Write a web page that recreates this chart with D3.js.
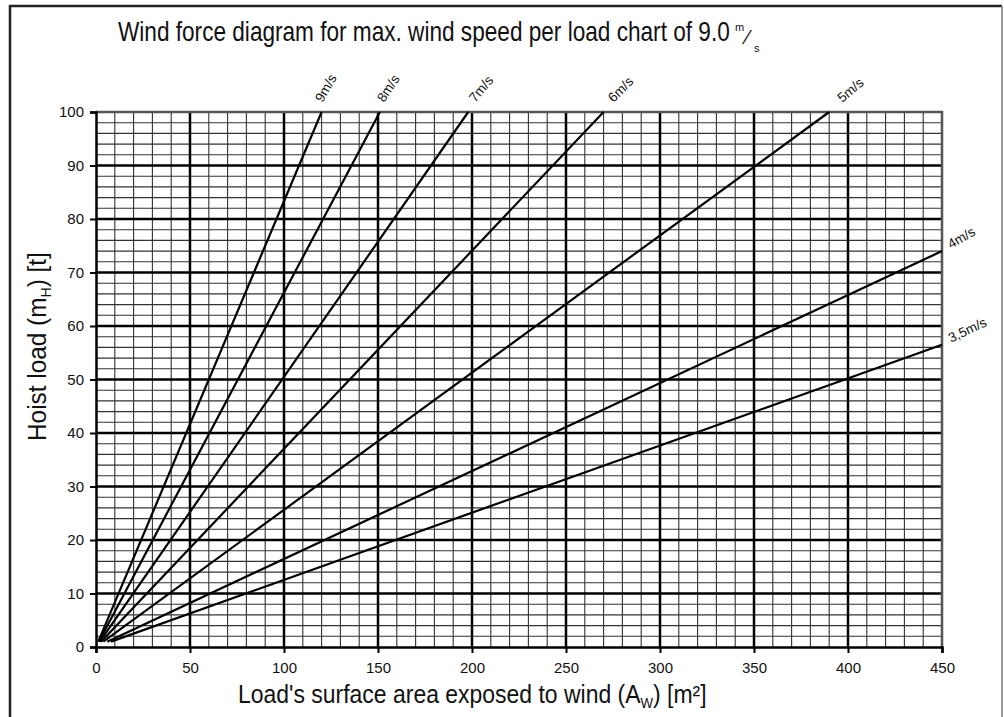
<!DOCTYPE html>
<head>
<meta charset="utf-8">
<style>
    body { margin: 0; background: #fff; }
    text { font-family: "Liberation Sans", Arial, sans-serif; fill: #111; }
    .narrow { font-family: "Liberation Sans Narrow", "Liberation Sans", Arial, sans-serif; }
</style>
<script src="https://d3js.org/d3.v7.min.js"></script>
</head>
<body>
<script>
// wind speed curves: [area m2, load t]
var speeds = ["9m/s", "8m/s", "7m/s", "6m/s", "5m/s", "4m/s", "3,5m/s"];
var curve_9 = [[1.2, 1], [120, 100]];
var curve_8 = [[1.5, 1], [151, 100]];
var curve_7 = [[2, 1], [198, 100]];
var curve_6 = [[2.7, 1], [270, 100]];
var curve_5 = [[3.9, 1], [390, 100]];
var curve_4 = [[6, 1], [450, 74]];
var curve_35 = [[8, 1], [450, 56.5]];
var curves = [curve_9, curve_8, curve_7, curve_6, curve_5, curve_4, curve_35];
var labelAngles = [-60, -56, -50, -45, -40, -30, -25];

var xTicks = [0, 50, 100, 150, 200, 250, 300, 350, 400, 450];
var yTicks = [0, 10, 20, 30, 40, 50, 60, 70, 80, 90, 100];

var width = 1004, height = 717;
var margin = {top: 112, right: 62, bottom: 70, left: 96};

var svg = d3.select("body").append("svg")
    .attr("width", width)
    .attr("height", height);

// outer frame (runs off the bottom of the picture)
svg.append("path")
    .attr("d", "M10,740 V6 H1002")
    .attr("fill", "none")
    .attr("stroke", "#222")
    .attr("stroke-width", 2.5);
svg.append("line")
    .attr("x1", 1002).attr("x2", 1002).attr("y1", 6).attr("y2", 740)
    .attr("stroke", "#999").attr("stroke-width", 2);

var x = d3.scaleLinear()
    .domain([0, 450])
    .range([margin.left, width - margin.right]);

var y = d3.scaleLinear()
    .domain([0, 100])
    .range([height - margin.bottom, margin.top]);

var g = svg.append("g");

// minor grid
g.selectAll("line.vminor")
  .data(d3.range(10, 450, 10).filter(function(d) { return d % 50 != 0; }))
  .enter().append("line")
    .attr("class", "vminor")
    .attr("x1", function(d) { return x(d); })
    .attr("x2", function(d) { return x(d); })
    .attr("y1", y(0)).attr("y2", y(100))
    .attr("stroke", "#333")
    .attr("stroke-width", 1.1);

g.selectAll("line.hminor")
  .data(d3.range(2, 100, 2).filter(function(d) { return d % 10 != 0; }))
  .enter().append("line")
    .attr("class", "hminor")
    .attr("y1", function(d) { return y(d); })
    .attr("y2", function(d) { return y(d); })
    .attr("x1", x(0)).attr("x2", x(450))
    .attr("stroke", "#333")
    .attr("stroke-width", 1.1);

// major grid
g.selectAll("line.vmajor")
  .data(xTicks.slice(1, -1))
  .enter().append("line")
    .attr("class", "vmajor")
    .attr("x1", function(d) { return x(d); })
    .attr("x2", function(d) { return x(d); })
    .attr("y1", y(0)).attr("y2", y(100))
    .attr("stroke", "#000")
    .attr("stroke-width", 2.5);

g.selectAll("line.hmajor")
  .data(yTicks.slice(1, -1))
  .enter().append("line")
    .attr("class", "hmajor")
    .attr("y1", function(d) { return y(d); })
    .attr("y2", function(d) { return y(d); })
    .attr("x1", x(0)).attr("x2", x(450))
    .attr("stroke", "#000")
    .attr("stroke-width", 2.5);

// top and right borders of the plot
g.append("path")
    .attr("d", "M" + x(0) + "," + y(100) + "H" + x(450) + "V" + y(0))
    .attr("fill", "none")
    .attr("stroke", "#555")
    .attr("stroke-width", 2.5);

// curves
var line = d3.line()
    .x(function(d) { return x(d[0]); })
    .y(function(d) { return y(d[1]); });

g.selectAll("path.curve")
  .data(curves)
  .enter().append("path")
    .attr("class", "curve")
    .attr("d", line)
    .attr("fill", "none")
    .attr("stroke", "#000")
    .attr("stroke-width", 2.2);

g.selectAll("text.speed")
  .data(curves)
  .enter().append("text")
    .attr("class", "speed")
    .attr("transform", function(d, i) {
        var end = d[d.length - 1];
        var px = x(end[0]), py = y(end[1]);
        if (end[1] >= 100) { px += 1 + i * 3; py -= 9; }
        else { px += 9; py -= 2; }
        return "translate(" + px + "," + py + ") rotate(" + labelAngles[i] + ")";
    })
    .style("font-size", "13.5px")
    .text(function(d, i) { return speeds[i]; });

// axes
var xAxis = svg.append("g")
    .attr("transform", "translate(0," + y(0) + ")")
    .call(d3.axisBottom(x).tickValues(xTicks).tickSize(6).tickPadding(9));
var yAxis = svg.append("g")
    .attr("transform", "translate(" + x(0) + ",0)")
    .call(d3.axisLeft(y).tickValues(yTicks).tickSize(6).tickPadding(6));

[xAxis, yAxis].forEach(function(a) {
    a.attr("font-size", null).attr("font-family", null);
    a.select(".domain").attr("stroke", "#000").attr("stroke-width", 2.5);
    a.selectAll(".tick line").attr("stroke", "#000").attr("stroke-width", 2);
    a.selectAll(".tick text")
        .attr("font-size", 15)
        .style("font-family", "'Liberation Sans', Arial, sans-serif")
        .style("font-size", "15px")
        .attr("fill", "#111");
});

// squeeze a text horizontally (narrow face is not installed)
function narrowText(sel, target, tx, ty, rot) {
    var w = sel.node().getComputedTextLength();
    sel.attr("transform", "translate(" + tx + "," + ty + ")" +
        (rot ? " rotate(" + rot + ")" : "") + " scale(" + (target / w) + ",1)");
}

// titles
var title = svg.append("text")
    .attr("class", "narrow")
    .style("font-size", "27px")
    .text("Wind force diagram for max. wind speed per load chart of 9.0");
narrowText(title, 612, 118, 41);
svg.append("text").attr("class", "narrow").attr("x", 735).attr("y", 31)
    .style("font-size", "11px").text("m");
svg.append("text").attr("class", "narrow").attr("x", 746).attr("y", 44)
    .style("font-size", "20px").text("\u2044");
svg.append("text").attr("class", "narrow").attr("x", 754).attr("y", 52)
    .style("font-size", "11px").text("s");

var xt = svg.append("text")
    .attr("class", "narrow")
    .style("font-size", "26px");
xt.append("tspan").text("Load's surface area exposed to wind (A");
xt.append("tspan").attr("dy", 5).style("font-size", "15px").text("W");
xt.append("tspan").attr("dy", -5).text(") [m\u00b2]");
narrowText(xt, 469, 238, 703);

var yt = svg.append("text")
    .attr("class", "narrow")
    .style("font-size", "26px");
yt.append("tspan").text("Hoist load (m");
yt.append("tspan").attr("dy", 5).style("font-size", "15px").text("H");
yt.append("tspan").attr("dy", -5).text(") [t]");
narrowText(yt, 189, 46, 441, -90);
</script>
</body>
